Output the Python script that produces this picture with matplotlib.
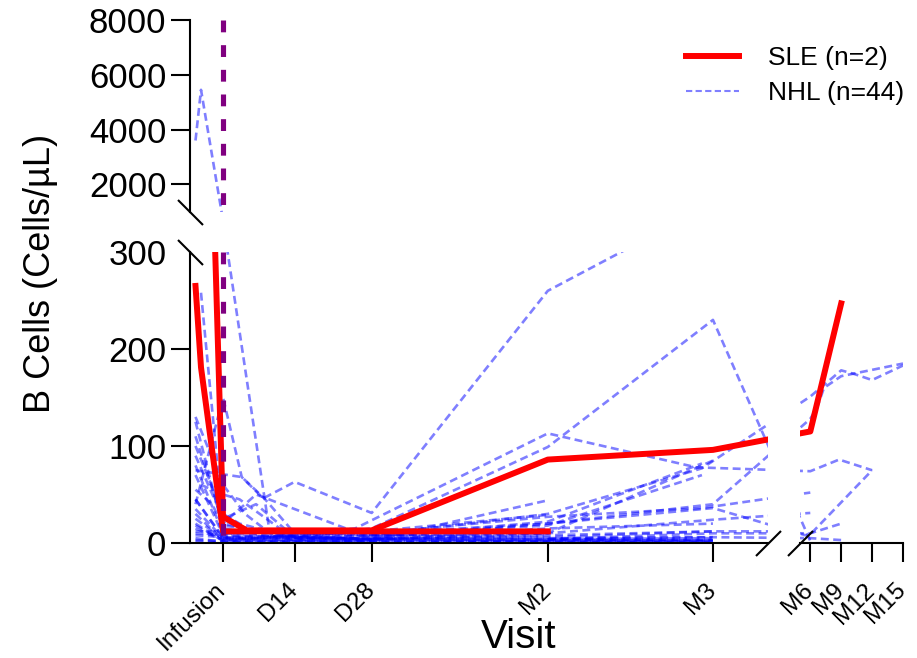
import numpy as np
import matplotlib
matplotlib.use('Agg')
import matplotlib.pyplot as plt
from matplotlib.lines import Line2D
from matplotlib.transforms import ScaledTranslation

plt.rcParams['font.family'] = ['Liberation Sans', 'DejaVu Sans']

# visit positions (days from infusion) and tick labels
left_ticks = [1, 14, 28, 60, 90]
left_labels = ['Infusion', 'D14', 'D28', 'M2', 'M3']
right_ticks = [180, 270, 360, 450]
right_labels = ['M6', 'M9', 'M12', 'M15']
infusion_day = 1

# SLE patients
sle_days = [
    [-4, -3, 1, 14, 28, 60],
    [-1.2, 1, 5.3, 28, 60, 90, 180, 270],
]
sle_vals = [
    [265, 181, 12, 12, 12, 12],
    [450, 27, 13, 13, 86, 96, 115, 247],
]

# NHL patients
nhl_days = [
    [-4, -3, 1.3, 9.5, 28, 60, 90],
    [-3, 1, 14, 28, 60, 90],
    [-4, 1, 4.4, 8.3, 14, 28, 60, 90],
    [-4, 1, 7, 25, 60, 87, 180, 264, 360],
    [-4, 1, 14, 28, 60, 90, 180],
    [14, 28, 60, 88, 180, 270, 310, 360, 450],
    [1, 28, 60, 90, 180, 200, 220, 270, 450],
    [28, 60, 90, 175, 360],
    [60, 90, 180, 270],
    [28, 60, 88, 180],
    [28, 60, 90, 180],
    [60, 90, 180, 270],
    [-4, 1, 14, 28, 60, 90],
    [-4, 1, 4, 14, 28],
    [-4, 1, 7, 14, 28, 60],
    [-4, -1, 1, 9, 28, 60, 90],
    [-4, 1, 10, 28, 60],
    [-4, 1, 14, 28, 60, 90],
    [-4, 1, 14, 28, 60, 90],
    [-4, 1, 14, 28, 60, 90, 100],
    [-4, 1, 14, 28, 60, 90],
    [-4, 1, 14, 28],
    [-4, 1, 14, 28, 60, 90],
    [-4, 1, 14, 28, 60, 88],
    [-4, 1, 14, 28, 60, 88],
    [-4, 1, 28, 60],
    [-4, 1, 28, 60],
    [-4, 1, 14, 28, 60, 90],
    [-4, 1, 7, 28, 60, 90],
    [-3, 1, 4, 14],
    [-4, 4.4, 8.5, 14],
    [-4, 1, 5, 10, 28],
    [-4, 1, 14, 28, 60, 90],
    [-4, 1, 14, 28, 60, 90],
]
nhl_vals = [
    [3600, 5450, 320, 10, 4, 3, 2],
    [258, 20, 6, 4, 3, 3],
    [40, 150, 68, 46, 63, 31, 260, 350],
    [45, 6, 5, 15, 113, 78, 74, 86, 75],
    [25, 4, 6, 15, 99, 230, 2],
    [5, 8, 30, 77, 151, 178, 174, 168, 183],
    [5, 10, 20, 40, 128, 140, 160, 172, 185],
    [5, 20, 36, 7, 75],
    [4, 10, 10, 20],
    [10, 27, 36, 52],
    [8, 10, 24, 31],
    [4, 6, 5, 3],
    [125, 15, 3, 2, 2, 2],
    [100, 30, 20, 5, 3],
    [90, 25, 40, 6, 4, 8],
    [55, 40, 18, 12, 8, 5, 6],
    [35, 5, 4, 3, 2],
    [15, 3, 2, 2, 1, 1],
    [12, 12, 10, 8, 8, 12],
    [8, 6, 5, 4, 6, 12, 12],
    [5, 1, 1, 1, 1, 1],
    [2, 0.5, 0.5, 0.5],
    [20, 2, 2, 3, 15, 20],
    [30, 3, 4, 8, 18, 70],
    [45, 5, 3, 6, 22, 82],
    [70, 8, 3, 44],
    [18, 3, 12, 29],
    [80, 10, 6, 4, 10, 85],
    [110, 20, 50, 5, 4, 3],
    [60, 50, 45, 4],
    [75, 68, 46, 10],
    [130, 60, 30, 8, 4],
    [10, 8, 6, 5, 4, 5],
    [3, 2, 2, 1, 2, 3],
]

# piecewise time axis: days up to 100 on the left, 150-450 squeezed on the right
GAP = 5.8
R = 0.0624


def fwd(d):
    d = np.asarray(d, dtype=float)
    return np.where(d <= 100, d,
                    np.where(d <= 150, 100 + (d - 100) * GAP / 50,
                             100 + GAP + (d - 150) * R))


def inv(u):
    u = np.asarray(u, dtype=float)
    return np.where(u <= 100, u,
                    np.where(u <= 100 + GAP, 100 + (u - 100) * 50 / GAP,
                             150 + (u - 100 - GAP) / R))


W, H = 917, 658
fig = plt.figure(figsize=(W / 100, H / 100), dpi=100)
ax_top = fig.add_axes([190 / W, 1 - 211.7 / H, 578 / W, 191.7 / H])
ax_low = fig.add_axes([190 / W, 1 - 543 / H, 578 / W, 291 / H])
ax_right = fig.add_axes([800 / W, 1 - 543 / H, 103 / W, 291 / H])
axes = (ax_top, ax_low, ax_right)

for ax in axes:
    ax.set_xscale('function', functions=(fwd, inv))
    ax.xaxis.set_minor_locator(matplotlib.ticker.NullLocator())
    for s in ('top', 'right'):
        ax.spines[s].set_visible(False)
    for s in ('left', 'bottom'):
        ax.spines[s].set_linewidth(1.5)
    ax.tick_params(direction='out', length=13.5, width=1.5, labelsize=25)
    ax.tick_params(axis='x', pad=21)

ax_top.set_xlim(-5, 100)
ax_low.set_xlim(-5, 100)
ax_right.set_xlim(150, 450)
ax_top.set_ylim(1000, 8000)
ax_low.set_ylim(0, 300)
ax_right.set_ylim(0, 300)

nhl_style = dict(color='blue', alpha=0.5, lw=1.9, ls=(0, (3, 1.7)), zorder=2)
for days, vals in zip(nhl_days, nhl_vals):
    for ax in axes:
        ax.plot(days, vals, **nhl_style)

for days, vals in zip(sle_days, sle_vals):
    for ax in axes:
        ax.plot(days, vals, color='red', lw=4.3, zorder=3)

# infusion marker, drawn top-down so the dashes start at the top
for ax in (ax_top, ax_low):
    y0, y1 = ax.get_ylim()
    ax.plot([infusion_day, infusion_day], [y1, y0], color='purple', lw=3.7,
            ls=(0, (2.3, 2.5)), zorder=4)

ax_top.set_yticks([2000, 4000, 6000, 8000])
ax_top.spines['bottom'].set_visible(False)
ax_top.tick_params(axis='x', bottom=False, labelbottom=False)

ax_low.set_yticks([0, 100, 200, 300])
ax_low.yaxis.get_major_ticks()[-1].tick1line.set_visible(False)
ax_low.set_xticks(left_ticks)
ax_low.set_xticklabels(left_labels, rotation=45, ha='right', va='baseline',
                       rotation_mode='anchor', fontsize=17.6)

ax_right.spines['left'].set_visible(False)
ax_right.tick_params(axis='y', left=False, labelleft=False)
ax_right.set_xticks(right_ticks)
ax_right.set_xticklabels(right_labels, rotation=45, ha='right', va='baseline',
                         rotation_mode='anchor', fontsize=17.6)

# nudge the slanted visit labels a little to the right
nudge = ScaledTranslation(2.7 / 72, 0, fig.dpi_scale_trans)
for ax in (ax_low, ax_right):
    for lab in ax.get_xticklabels():
        lab.set_transform(lab.get_transform() + nudge)

# axis break marks
brk = dict(linestyle='none', color='k', mec='k', mew=1.5, markersize=18, clip_on=False, zorder=5)
ax_top.plot([0], [0], transform=ax_top.transAxes, marker=[(-1, 1), (1, -1)], **brk)
ax_low.plot([0], [1], transform=ax_low.transAxes, marker=[(-1, 1), (1, -1)], **brk)
ax_low.plot([1], [0], transform=ax_low.transAxes, marker=[(-1, -1), (1, 1)], **brk)
ax_right.plot([0], [0], transform=ax_right.transAxes, marker=[(-1, -1), (1, 1)], **brk)

fig.text(41 / W, 1 - 273 / H, 'B Cells (Cells/\u00b5L)', rotation=90,
         ha='center', va='center', fontsize=26)
fig.text(519 / W, 1 - 648 / H, 'Visit', ha='center', va='baseline', fontsize=29)

handles = [Line2D([], [], color='red', lw=4.3),
           Line2D([], [], color='blue', alpha=0.5, lw=1.5, ls=(0, (3, 1.6)))]
fig.legend(handles, ['SLE (n=2)', 'NHL (n=44)'], loc='upper left',
           bbox_to_anchor=(686 / W, 1 - 46 / H), frameon=False, fontsize=19,
           handlelength=2.0, handletextpad=1.1, labelspacing=0.41,
           borderpad=0, borderaxespad=0)

fig.savefig('out.png', dpi=100)
